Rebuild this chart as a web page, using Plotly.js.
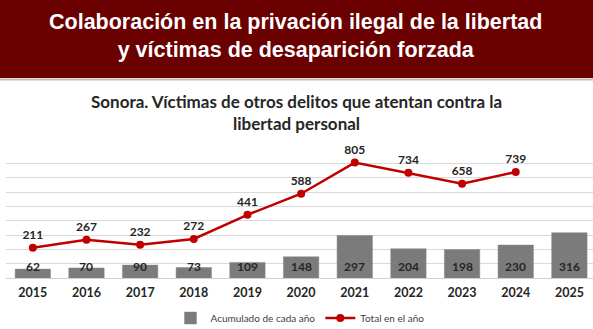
<!DOCTYPE html>
<html><head><meta charset="utf-8">
<script src="https://cdn.plot.ly/plotly-3.0.1.min.js"></script>
<style>html,body{margin:0;padding:0;background:#fff;}#chart{width:593px;height:329px;}</style>
</head><body><div id="chart"></div>
<script>
const years = ['2015','2016','2017','2018','2019','2020','2021','2022','2023','2024','2025'];
const acumulado = [62,70,90,73,109,148,297,204,198,230,316];
const totalAnio = [211,267,232,272,441,588,805,734,658,739,null];
const barName = 'Acumulado de cada año';
const lineName = 'Total en el año';
const bannerLines = ['Colaboración en la privación ilegal de la libertad','y víctimas de desaparición forzada'];
const chartTitle = 'Sonora. Víctimas de otros delitos que atentan contra la<br>libertad personal';

const W = 593, H = 329, mt = 149, mb = 51, ml = 6, mr = 0;
const ph = H - mt - mb, pw = W - ml - mr;
const py = p => (H - mb - p) / ph;
const px = p => (p - ml) / pw;

const bars = {
  type: 'bar', x: years, y: acumulado, name: barName,
  marker: {color: '#7b7b7b', line: {color: '#8a8a8a', width: 0.5}},
  width: 0.66, hoverinfo: 'skip'
};
const line = {
  type: 'scatter', mode: 'lines+markers+text', x: years, y: totalAnio, name: lineName,
  line: {color: '#c00000', width: 2.5}, marker: {color: '#c00000', size: 8},
  text: totalAnio.map(v => v == null ? '' : String(v)), textposition: 'top center',
  textfont: {family: 'Lato, "Open Sans", sans-serif', size: 12, color: '#262626', weight: 'bold'},
  cliponaxis: false, hoverinfo: 'skip'
};

const annotations = years.map((yr, i) => ({
  x: i, y: 78, xref: 'x', yref: 'y', text: String(acumulado[i]), showarrow: false,
  font: {family: 'Lato, "Open Sans", sans-serif', size: 12, color: '#262626', weight: 'bold'}
}));
annotations.push({
  x: px(295), y: py(36), xref: 'paper', yref: 'paper', text: bannerLines.join('<br>'), showarrow: false,
  font: {family: '"Liberation Sans", Arial, sans-serif', size: 21.5, color: '#ffffff', weight: 'bold'},
  align: 'center', yanchor: 'middle', xanchor: 'center'
});
annotations.push({
  x: px(296), y: py(112), xref: 'paper', yref: 'paper', text: chartTitle, showarrow: false,
  font: {family: 'Lato, "Open Sans", sans-serif', size: 17, color: '#262626', weight: 'bold'},
  align: 'center', yanchor: 'middle', xanchor: 'center'
});

const layout = {
  width: W, height: H, margin: {l: ml, r: mr, t: mt, b: mb, pad: 0, autoexpand: false},
  paper_bgcolor: '#ffffff', plot_bgcolor: '#ffffff',
  showlegend: true,
  legend: {orientation: 'h', x: px(300), xanchor: 'center', y: py(318), yanchor: 'middle',
    font: {family: 'Lato, "Open Sans", sans-serif', size: 10, color: '#404040'}, traceorder: 'normal'},
  xaxis: {type: 'category', range: [-0.5, 10.44], showgrid: false, zeroline: false, showline: false,
    ticks: '', ticklabelstandoff: 5,
    tickfont: {family: 'Lato, "Open Sans", sans-serif', size: 12.5, color: '#262626', weight: 'bold'}},
  yaxis: {range: [0, 900], dtick: 100, showgrid: true, gridcolor: '#d9d9d9', gridwidth: 1,
    showticklabels: false, zeroline: true, zerolinecolor: '#d0d0d0', zerolinewidth: 1, fixedrange: true},
  shapes: [
    {type: 'rect', xref: 'paper', yref: 'paper', x0: px(0), x1: px(593), y0: py(78), y1: py(0),
     fillcolor: '#6a0000', line: {width: 0}, layer: 'below'},
    {type: 'line', xref: 'paper', yref: 'paper', x0: px(0), x1: px(593), y0: py(79.5), y1: py(79.5),
     line: {color: '#c4b8b8', width: 2}, layer: 'below'}
  ],
  annotations: annotations,
  bargap: 0.34
};
Plotly.newPlot('chart', [bars, line], layout, {staticPlot: true, displayModeBar: false});
</script></body></html>
